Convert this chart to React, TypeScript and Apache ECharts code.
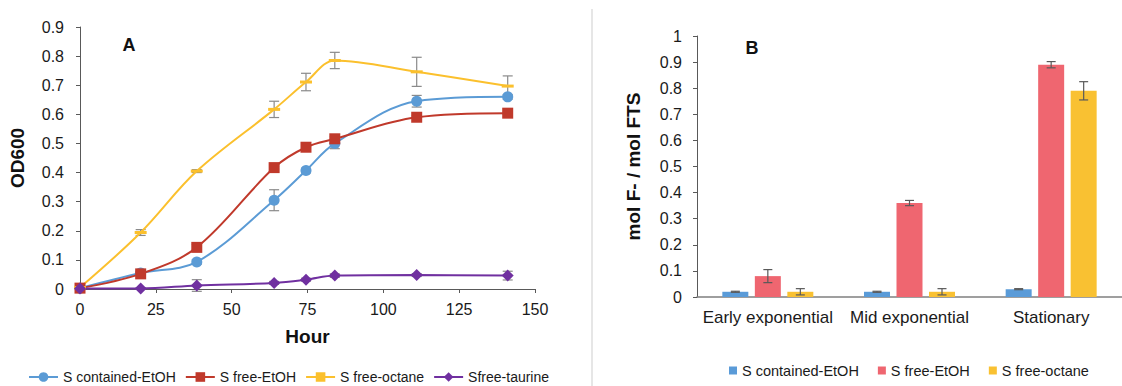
import React, { useEffect, useRef } from "react";
import * as echarts from "echarts";

// ---- Chart A data ----
const hours = [0, 20, 38.5, 64, 74.5, 84, 111, 141];
const containedEtOH = [0.003, 0.055, 0.093, 0.305, 0.407, 0.5, 0.645, 0.66];
const freeEtOH = [0.003, 0.052, 0.143, 0.417, 0.487, 0.516, 0.59, 0.604];
const freeOctane = [0.005, 0.194, 0.405, 0.617, 0.711, 0.785, 0.746, 0.697];
const freeTaurine = [0.002, 0.002, 0.012, 0.021, 0.032, 0.046, 0.048, 0.046];
const containedEtOHErr = [0, 0.003, 0.008, 0.036, 0.008, 0.018, 0.02, 0.008];
const freeEtOHErr = [0, 0.003, 0.01, 0.005, 0.005, 0.008, 0.005, 0.004];
const freeOctaneErr = [0, 0.01, 0.005, 0.028, 0.03, 0.028, 0.05, 0.035];
const freeTaurineErr = [0, 0.002, 0.02, 0.005, 0.005, 0.006, 0.005, 0.015];

// ---- Chart B data ----
const phases = ["Early exponential", "Mid exponential", "Stationary"];
const barContainedEtOH = [0.02, 0.02, 0.03];
const barFreeEtOH = [0.08, 0.36, 0.89];
const barFreeOctane = [0.02, 0.02, 0.79];
const barContainedEtOHErr = [0.002, 0.002, 0.002];
const barFreeEtOHErr = [0.025, 0.01, 0.012];
const barFreeOctaneErr = [0.012, 0.012, 0.035];

const lineNames = ["S contained-EtOH", "S free-EtOH", "S free-octane", "Sfree-taurine"];
const barNames = ["S contained-EtOH", "S free-EtOH", "S free-octane"];

const FONT = "'Liberation Sans', Arial, Helvetica, sans-serif";
const C_BLUE = "#5B9BD5";
const C_RED = "#C0392B";
const C_YEL = "#FBC02D";
const C_PUR = "#7030A0";
const B_BLUE = "#5A9BD8";
const B_RED = "#EF6670";
const B_YEL = "#F9C132";

const fmt1 = (v: number) => String(+v.toFixed(1));

function lineErr(vals: number[], errs: number[]) {
  return {
    type: "custom",
    xAxisIndex: 0,
    yAxisIndex: 0,
    z: 1,
    silent: true,
    encode: { x: 0, y: 1 },
    data: hours.map((h, i) => [h, vals[i], errs[i]]),
    renderItem: (params: any, api: any) => {
      const x = api.value(0);
      const y = api.value(1);
      const e = api.value(2);
      if (!e) return null;
      const top = api.coord([x, y + e]);
      const bot = api.coord([x, y - e]);
      const cx = top[0];
      const hw = 5;
      const st = { stroke: "#8a8a8a", lineWidth: 1.2 };
      return {
        type: "group",
        children: [
          { type: "line", shape: { x1: cx, y1: top[1], x2: cx, y2: bot[1] }, style: st },
          { type: "line", shape: { x1: cx - hw, y1: top[1], x2: cx + hw, y2: top[1] }, style: st },
          { type: "line", shape: { x1: cx - hw, y1: bot[1], x2: cx + hw, y2: bot[1] }, style: st },
        ],
      };
    },
  };
}

function barErr(vals: number[], errs: number[], offset: number) {
  return {
    type: "custom",
    xAxisIndex: 1,
    yAxisIndex: 1,
    z: 5,
    silent: true,
    encode: { x: 0, y: 1 },
    data: phases.map((_, i) => [i, vals[i], errs[i]]),
    renderItem: (params: any, api: any) => {
      const x = api.value(0);
      const y = api.value(1);
      const e = api.value(2);
      const top = api.coord([x, y + e]);
      const bot = api.coord([x, y - e]);
      const cx = top[0] + offset;
      const hw = 4.5;
      const st = { stroke: "#595959", lineWidth: 1.2 };
      return {
        type: "group",
        children: [
          { type: "line", shape: { x1: cx, y1: top[1], x2: cx, y2: bot[1] }, style: st },
          { type: "line", shape: { x1: cx - hw, y1: top[1], x2: cx + hw, y2: top[1] }, style: st },
          { type: "line", shape: { x1: cx - hw, y1: bot[1], x2: cx + hw, y2: bot[1] }, style: st },
        ],
      };
    },
  };
}

export default function App() {
  const ref = useRef<HTMLDivElement>(null);
  useEffect(() => {
    document.body.style.margin = "0";
    const chart = echarts.init(ref.current!, null, { renderer: "svg" });
    const axisText = { color: "#1a1a1a", fontSize: 16, fontFamily: FONT };
    const lineSeries = (name: string, data: number[], color: string, symbol: string, size: any) => ({
      name,
      type: "line",
      xAxisIndex: 0,
      yAxisIndex: 0,
      smooth: 0.35,
      z: 3,
      symbol,
      symbolSize: size,
      data: hours.map((h, i) => [h, data[i]]),
      lineStyle: { color, width: 2 },
      itemStyle: { color },
    });
    const BW = 26;
    const OFF = 32.5;
    chart.setOption({
      animation: false,
      textStyle: { fontFamily: FONT },
      grid: [
        { left: 80, top: 27, width: 455, height: 262 },
        { left: 697, top: 36, width: 438, height: 261 },
      ],
      xAxis: [
        {
          type: "value",
          gridIndex: 0,
          min: 0,
          max: 150,
          interval: 25,
          splitLine: { show: false },
          axisLine: { lineStyle: { color: "#595959" } },
          axisTick: { show: true, length: 4, lineStyle: { color: "#595959" } },
          axisLabel: { ...axisText, margin: 12 },
          name: "Hour",
          nameLocation: "middle",
          nameGap: 38,
          nameTextStyle: { fontSize: 19, fontWeight: "bold", color: "#111", fontFamily: FONT },
        },
        {
          type: "category",
          gridIndex: 1,
          data: phases,
          axisLine: { lineStyle: { color: "#7f7f7f", width: 1.5 } },
          axisTick: { show: false },
          axisLabel: { ...axisText, fontSize: 17, margin: 12, interval: 0 },
        },
      ],
      yAxis: [
        {
          type: "value",
          gridIndex: 0,
          min: 0,
          max: 0.9,
          interval: 0.1,
          splitLine: { show: false },
          axisLine: { show: true, lineStyle: { color: "#595959" } },
          axisTick: { show: true, length: 4, lineStyle: { color: "#595959" } },
          axisLabel: { ...axisText, margin: 16, formatter: fmt1 },
          name: "OD600",
          nameLocation: "middle",
          nameGap: 53,
          nameTextStyle: { fontSize: 19, fontWeight: "bold", color: "#111", fontFamily: FONT },
        },
        {
          type: "value",
          gridIndex: 1,
          min: 0,
          max: 1,
          interval: 0.1,
          splitLine: { show: false },
          axisLine: { show: true, lineStyle: { color: "#595959" } },
          axisTick: { show: true, length: 4, lineStyle: { color: "#595959" } },
          axisLabel: { ...axisText, margin: 15, formatter: fmt1 },
          name: "mol F- / mol FTS",
          nameLocation: "middle",
          nameGap: 54,
          nameTextStyle: { fontSize: 19, fontWeight: "bold", color: "#111", fontFamily: FONT },
        },
      ],
      legend: [
        {
          left: 23,
          top: 365,
          itemWidth: 29,
          itemHeight: 12,
          itemGap: 9,
          textStyle: { fontSize: 14, color: "#1a1a1a", fontFamily: FONT },
          data: lineNames,
          selectedMode: false,
        },
        {
          left: 724,
          top: 358,
          itemWidth: 8,
          itemHeight: 8,
          itemGap: 19,
          textStyle: { fontSize: 14.5, color: "#1a1a1a", fontFamily: FONT },
          selectedMode: false,
          data: [
            { name: barNames[0], icon: "rect", itemStyle: { color: B_BLUE } },
            { name: barNames[1], icon: "rect", itemStyle: { color: B_RED } },
            { name: barNames[2], icon: "rect", itemStyle: { color: B_YEL } },
          ],
        },
      ],
      graphic: [
        {
          type: "line",
          shape: { x1: 592, y1: 9, x2: 592, y2: 386 },
          style: { stroke: "#e6e6e6", lineWidth: 2 },
        },
        {
          type: "text",
          x: 129,
          y: 45,
          style: { text: "A", fill: "#111", font: `bold 18px ${FONT}`, align: "center", verticalAlign: "middle" },
        },
        {
          type: "text",
          x: 752,
          y: 48,
          style: { text: "B", fill: "#111", font: `bold 18px ${FONT}`, align: "center", verticalAlign: "middle" },
        },
      ],
      series: [
        lineErr(containedEtOH, containedEtOHErr),
        lineErr(freeEtOH, freeEtOHErr),
        lineErr(freeOctane, freeOctaneErr),
        lineErr(freeTaurine, freeTaurineErr),
        lineSeries(lineNames[0], containedEtOH, C_BLUE, "circle", 11),
        lineSeries(lineNames[1], freeEtOH, C_RED, "rect", 11),
        lineSeries(lineNames[2], freeOctane, C_YEL, "rect", [12, 3]),
        lineSeries(lineNames[3], freeTaurine, C_PUR, "diamond", 12),
        {
          name: barNames[0],
          type: "bar",
          xAxisIndex: 1,
          yAxisIndex: 1,
          barWidth: BW,
          barGap: "25%",
          data: barContainedEtOH,
          itemStyle: { color: B_BLUE },
        },
        {
          name: barNames[1],
          type: "bar",
          xAxisIndex: 1,
          yAxisIndex: 1,
          barWidth: BW,
          barGap: "25%",
          data: barFreeEtOH,
          itemStyle: { color: B_RED },
        },
        {
          name: barNames[2],
          type: "bar",
          xAxisIndex: 1,
          yAxisIndex: 1,
          barWidth: BW,
          barGap: "25%",
          data: barFreeOctane,
          itemStyle: { color: B_YEL },
        },
        barErr(barContainedEtOH, barContainedEtOHErr, -OFF),
        barErr(barFreeEtOH, barFreeEtOHErr, 0),
        barErr(barFreeOctane, barFreeOctaneErr, OFF),
      ],
    });
    return () => chart.dispose();
  }, []);
  return <div ref={ref} style={{ width: 1122, height: 386 }} />;
}
